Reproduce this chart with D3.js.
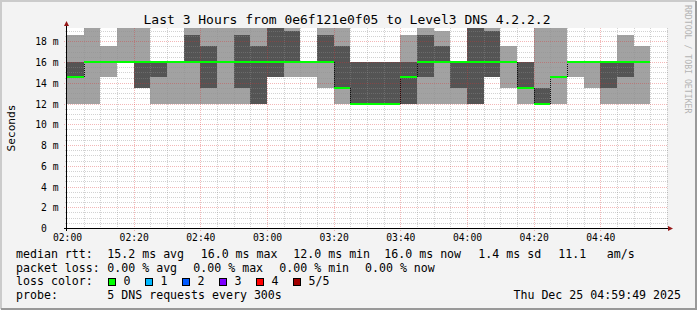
<!DOCTYPE html>
<html>
<head>
<meta charset="utf-8">
<script src="https://cdn.jsdelivr.net/npm/d3@7"></script>
<style>
    html, body { margin: 0; padding: 0; background: #f3f3f3; }
    svg { display: block; }
    text { font-family: "DejaVu Sans Mono", monospace; fill: #000; }
</style>
</head>
<body>
<div id="chart"></div>
<script>
// 5 minute slots, each with 5 sorted dns pings (ms)
var slots = ["02:00", "02:05", "02:10", "02:15", "02:20", "02:25", "02:30", "02:35", "02:40", "02:45",
             "02:50", "02:55", "03:00", "03:05", "03:10", "03:15", "03:20", "03:25", "03:30", "03:35",
             "03:40", "03:45", "03:50", "03:55", "04:00", "04:05", "04:10", "04:15", "04:20", "04:25",
             "04:30", "04:35", "04:40", "04:45", "04:50"];
var ping1 = [12, 12, 14.6, 16, 13.45, 12, 12, 12, 12, 12,
             12, 12, 14.6, 14.6, 14.6, 13.45, 12, 12, 12, 12,
             12, 12, 12, 12, 12, 14.6, 13.45, 12, 12, 12,
             14.6, 13.45, 12, 12, 12];
var ping2 = [14.6, 16, 16, 16, 13.45, 14.6, 16, 16, 13.45, 16,
             13.45, 12, 14.6, 16, 16, 16, 13.45, 12, 12, 12,
             12, 14.6, 16, 13.45, 12, 14.6, 16, 13.45, 12, 14.6,
             16, 16, 13.45, 14.6, 16];
var median = [14.6, 16, 16, 16, 16, 16, 16, 16, 16, 16,
              16, 16, 16, 16, 16, 16, 13.45, 12, 12, 12,
              14.6, 16, 16, 16, 16, 16, 16, 13.45, 12, 14.6,
              16, 16, 16, 16, 16];
var ping4 = [16, 16, 16, 16, 16, 16, 16, 18.6, 17.55, 16,
             18.6, 17.55, 19.4, 19.0, 16, 18.6, 17.55, 16, 16, 16,
             16, 18.6, 17.55, 16, 19.4, 19.0, 16, 16, 13.45, 14.6,
             16, 16, 16, 16, 16];
var ping5 = [18.6, 19.4, 17.55, 19.4, 19.4, 16, 16, 19.4, 19.4, 19.4,
             19.4, 19.4, 19.4, 19.4, 16, 19.4, 19.4, 16, 16, 16,
             18.6, 19.4, 19.0, 16, 19.4, 19.4, 17.55, 16, 19.4, 19.4,
             16, 16, 16, 18.6, 17.55];

var xTickLabels = ["02:00", "02:20", "02:40", "03:00", "03:20", "03:40", "04:00", "04:20", "04:40"];
var yTicks = [0, 2, 4, 6, 8, 10, 12, 14, 16, 18];

var titleText = "Last 3 Hours from 0e6f121e0f05 to Level3 DNS 4.2.2.2";
var rttLegend = ["median rtt:", "15.2 ms avg", "16.0 ms max", "12.0 ms min", "16.0 ms now", "1.4 ms sd", "11.1", "am/s"];
var lossLegend = ["packet loss:", "0.00 % avg", "0.00 % max", "0.00 % min", "0.00 % now"];
var lossLabels = ["0", "1", "2", "3", "4", "5/5"];
var lossColors = ["#00ff00", "#00b8ff", "#0059ff", "#7e00ff", "#ff0000", "#a10000"];
var probeText = "5 DNS requests every 300s";
var stampText = "Thu Dec 25 04:59:49 2025";

var W = 697, H = 310;
var plotL = 67, plotR = 667, plotT = 28, plotB = 228;

var parseTime = d3.timeParse("%H:%M");
var times = slots.map(parseTime);

var x = d3.scaleTime()
    .domain([parseTime("02:00"), parseTime("05:00")])
    .range([plotL, plotR]);
var y = d3.scaleLinear()
    .domain([0, (plotB - plotT) / 10.375])
    .range([plotB, plotT]);

var rows = times.map(function (t, i) {
    return {t: t, t1: d3.timeMinute.offset(t, 5), p1: ping1[i], p2: ping2[i], med: median[i], p4: ping4[i], p5: ping5[i]};
});

var svg = d3.select("#chart").append("svg")
    .attr("width", W)
    .attr("height", H);

// frame
svg.append("rect").attr("width", W).attr("height", H).attr("fill", "#f3f3f3");
svg.append("path").attr("d", "M1,309 V1 H696").attr("stroke", "#cbcbcb").attr("stroke-width", 2).attr("fill", "none");
svg.append("path").attr("d", "M1,309 H696 V1").attr("stroke", "#999").attr("stroke-width", 2).attr("fill", "none");

svg.append("rect")
    .attr("x", plotL).attr("y", plotT)
    .attr("width", plotR - plotL).attr("height", plotB - plotT)
    .attr("fill", "#fff");

svg.append("clipPath").attr("id", "plotClip")
    .append("rect")
    .attr("x", plotL).attr("y", plotT)
    .attr("width", plotR - plotL).attr("height", plotB - plotT);

var plot = svg.append("g").attr("clip-path", "url(#plotClip)");

// smoke: outer band min..max, inner band 2nd..4th
plot.selectAll("rect.outer")
    .data(rows)
    .join("rect")
    .attr("class", "outer")
    .attr("x", function (d) { return x(d.t); })
    .attr("width", function (d) { return x(d.t1) - x(d.t); })
    .attr("y", function (d) { return y(d.p5); })
    .attr("height", function (d) { return y(d.p1) - y(d.p5); })
    .attr("fill", "#a2a2a2")
    .attr("shape-rendering", "crispEdges");

plot.selectAll("rect.inner")
    .data(rows)
    .join("rect")
    .attr("class", "inner")
    .attr("x", function (d) { return x(d.t); })
    .attr("width", function (d) { return x(d.t1) - x(d.t); })
    .attr("y", function (d) { return y(d.p4); })
    .attr("height", function (d) { return y(d.p2) - y(d.p4); })
    .attr("fill", "#545454")
    .attr("shape-rendering", "crispEdges");

// grid
var minorColor = "rgba(143,143,143,0.4)", majorColor = "rgba(222,48,48,0.35)";
var grid = svg.append("g").attr("shape-rendering", "crispEdges").attr("stroke-dasharray", "1,1");
var minorY = d3.range(1, 39).map(function (k) { return k / 2; }).filter(function (v) { return v % 2 !== 0; });
grid.selectAll("line.minorY")
    .data(minorY)
    .join("line")
    .attr("x1", plotL - 2).attr("x2", plotR + 1)
    .attr("y1", function (d) { return Math.round(y(d)) + 0.5; })
    .attr("y2", function (d) { return Math.round(y(d)) + 0.5; })
    .attr("stroke", minorColor);

var minorX = d3.timeMinute.every(5).range(x.domain()[0], x.domain()[1]).slice(1)
    .filter(function (t) { return t.getMinutes() % 20 !== 0; });
grid.selectAll("line.minorX")
    .data(minorX.concat([x.domain()[1]]))
    .join("line")
    .attr("x1", function (d) { return Math.round(x(d)) + 0.5; })
    .attr("x2", function (d) { return Math.round(x(d)) + 0.5; })
    .attr("y1", plotT).attr("y2", plotB + 2)
    .attr("stroke", minorColor);

grid.selectAll("line.majorY")
    .data(yTicks.slice(1))
    .join("line")
    .attr("x1", plotL - 3).attr("x2", plotR + 1)
    .attr("y1", function (d) { return Math.round(y(d)) + 0.5; })
    .attr("y2", function (d) { return Math.round(y(d)) + 0.5; })
    .attr("stroke", majorColor);

grid.selectAll("line.majorX")
    .data(xTickLabels.slice(1).map(parseTime))
    .join("line")
    .attr("x1", function (d) { return Math.round(x(d)) + 0.5; })
    .attr("x2", function (d) { return Math.round(x(d)) + 0.5; })
    .attr("y1", plotT).attr("y2", plotB + 3)
    .attr("stroke", majorColor);

// median line, step connectors dotted
var med = svg.append("g");
med.selectAll("line.step")
    .data(rows.slice(1).map(function (d, i) { return {t: d.t, a: rows[i].med, b: d.med}; })
        .filter(function (d) { return d.a !== d.b; }))
    .join("line")
    .attr("x1", function (d) { return Math.round(x(d.t)) + 0.5; })
    .attr("x2", function (d) { return Math.round(x(d.t)) + 0.5; })
    .attr("y1", function (d) { return y(d.a); })
    .attr("y2", function (d) { return y(d.b); })
    .attr("stroke", "#111")
    .attr("stroke-dasharray", "1,1")
    .attr("shape-rendering", "crispEdges");

med.selectAll("line.med")
    .data(rows)
    .join("line")
    .attr("x1", function (d) { return x(d.t); })
    .attr("x2", function (d) { return x(d.t1); })
    .attr("y1", function (d) { return Math.round(y(d.med)); })
    .attr("y2", function (d) { return Math.round(y(d.med)); })
    .attr("stroke", lossColors[0])
    .attr("stroke-width", 2)
    .attr("shape-rendering", "crispEdges");

// axes
var axisColor = "#000", arrowColor = "#961818";
svg.append("line")
    .attr("x1", plotL - 3).attr("x2", plotR + 3)
    .attr("y1", plotB + 0.5).attr("y2", plotB + 0.5)
    .attr("stroke", axisColor).attr("shape-rendering", "crispEdges");
svg.append("line")
    .attr("x1", plotL - 0.5).attr("x2", plotL - 0.5)
    .attr("y1", plotB + 3).attr("y2", plotT - 5)
    .attr("stroke", axisColor).attr("shape-rendering", "crispEdges");
svg.append("path")
    .attr("d", "M" + (plotL - 3) + "," + (plotT - 2) + " L" + (plotL + 2) + "," + (plotT - 2) + " L" + (plotL - 0.5) + "," + (plotT - 7) + " Z")
    .attr("fill", arrowColor);
svg.append("path")
    .attr("d", "M" + (plotR + 1) + "," + (plotB - 2) + " L" + (plotR + 1) + "," + (plotB + 3) + " L" + (plotR + 6) + "," + (plotB + 0.5) + " Z")
    .attr("fill", arrowColor);

var xAxis = d3.axisBottom(x)
    .tickValues(xTickLabels.map(parseTime))
    .tickFormat(d3.timeFormat("%H:%M"))
    .tickSize(0)
    .tickPadding(6);
var gx = svg.append("g").attr("transform", "translate(0," + plotB + ")").call(xAxis);
gx.select(".domain").remove();
gx.selectAll("text").attr("font-family", "DejaVu Sans Mono").attr("font-size", "9.7px").attr("fill", "#000");

var yAxis = d3.axisLeft(y)
    .tickValues(yTicks)
    .tickFormat(function (d) { return d === 0 ? "0" : d + " m"; })
    .tickSize(0)
    .tickPadding(8.5);
var gy = svg.append("g").attr("transform", "translate(" + plotL + ",0)").call(yAxis);
gy.select(".domain").remove();
gy.selectAll("text").attr("font-family", "DejaVu Sans Mono").attr("font-size", "9.7px").attr("fill", "#000")
    .attr("dy", "0.36em")
    .filter(function (d) { return d === 0; })
    .attr("x", -8.5 - 11.7);

// labels
svg.append("text")
    .attr("x", 347).attr("y", 24)
    .attr("text-anchor", "middle")
    .attr("font-size", "13px")
    .text(titleText);

svg.append("text")
    .attr("transform", "translate(15," + ((plotT + plotB) / 2) + ") rotate(-90)")
    .attr("text-anchor", "middle")
    .attr("font-size", "11.2px")
    .text("Seconds");

svg.append("text")
    .attr("transform", "translate(685,5) rotate(90)")
    .attr("font-size", "8.2px")
    .style("fill", "#b4b4b4")
    .text("RRDTOOL / TOBI OETIKER");

// legend
var legendSize = "11.6px";
var rttX = [16, 107.3, 200.7, 293.3, 384.3, 478.3, 558.3, 606.7];
var lossX = [16, 107.3, 193.3, 279.3, 365];
var legend = svg.append("g").attr("font-size", legendSize);

legend.selectAll("text.rtt")
    .data(rttLegend)
    .join("text")
    .attr("x", function (d, i) { return rttX[i]; })
    .attr("y", 258)
    .text(function (d) { return d; });

legend.selectAll("text.loss")
    .data(lossLegend)
    .join("text")
    .attr("x", function (d, i) { return lossX[i]; })
    .attr("y", 271.5)
    .text(function (d) { return d; });

legend.append("text").attr("x", 16).attr("y", 285).text("loss color:");
var keys = legend.selectAll("g.key")
    .data(lossLabels)
    .join("g")
    .attr("transform", function (d, i) { return "translate(" + (108.5 + i * 37) + ",0)"; });
keys.append("rect")
    .attr("x", 0).attr("y", 278.5)
    .attr("width", 7).attr("height", 7)
    .attr("fill", function (d, i) { return lossColors[i]; })
    .attr("stroke", "#000")
    .attr("shape-rendering", "crispEdges");
keys.append("text")
    .attr("x", 15).attr("y", 285)
    .text(function (d) { return d; });

legend.append("text").attr("x", 16).attr("y", 298.5).text("probe:");
legend.append("text").attr("x", 107.3).attr("y", 298.5).text(probeText);
legend.append("text").attr("x", 681).attr("y", 298.5).attr("text-anchor", "end").text(stampText);
</script>
</body>
</html>
